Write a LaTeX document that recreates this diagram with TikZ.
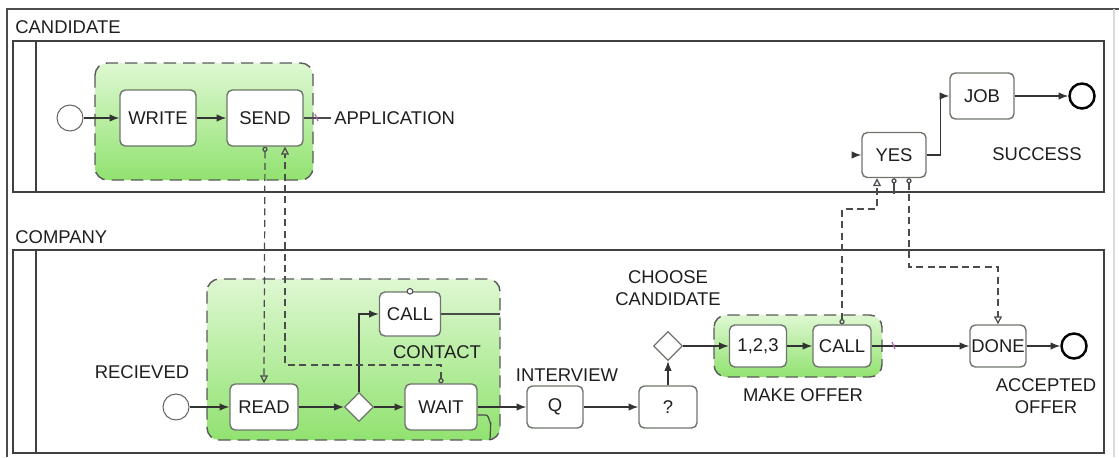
\documentclass[tikz,border=0pt]{standalone}
\usepackage{fontspec}
\setmainfont{Liberation Sans}
\usetikzlibrary{arrows.meta,shapes.geometric}
\definecolor{grptop}{RGB}{222,248,210}
\definecolor{grpbot}{RGB}{145,226,112}
\definecolor{boxline}{RGB}{110,118,108}
\definecolor{txt}{RGB}{30,30,30}
\tikzset{
  lbl/.style={text=txt,font=\fontsize{10.5}{12.6}\selectfont,inner sep=0pt},
  task/.style={draw=boxline,fill=white,rounded corners=3pt,line width=0.8pt,inner sep=0pt,text=txt,font=\fontsize{10.5}{12.6}\selectfont},
  grp/.style={draw=black!65,dash pattern=on 7pt off 4pt,rounded corners=7pt,line width=0.8pt,top color=grptop,bottom color=grpbot},
  startev/.style={circle,draw=black!60,fill=white,line width=0.6pt,minimum size=0.52cm,inner sep=0pt},
  endev/.style={circle,draw=black,fill=white,line width=1.4pt,minimum size=0.5cm,inner sep=0pt},
  gate/.style={diamond,aspect=1,draw=boxline,fill=white,line width=0.7pt,minimum size=0.58cm,inner sep=0pt},
  flow/.style={draw=black!80,line width=0.7pt,-{Latex[length=5.5pt,width=4.2pt]}},
  plain/.style={draw=black!70,line width=0.7pt},
  msg/.style={draw=black!70,line width=0.7pt,dash pattern=on 4pt off 2.5pt,{Circle[open,length=3pt,width=3pt]}-{Triangle[open,length=4.5pt,width=4.5pt]}},
  tick/.style={draw=violet!60,line width=0.7pt}
}
\begin{document}
\begin{tikzpicture}[x=0.02cm,y=-0.02cm]
\useasboundingbox (0,0) rectangle (1119,457);
% pools
\draw[black!70,line width=1.4pt] (7,457) -- (7,9) -- (1119,9);
\draw[black!15,line width=0.6pt] (1114,9) -- (1114,457);
\draw[black!75,line width=0.9pt] (13,41) rectangle (1104,192);
\draw[black!75,line width=0.9pt] (36,41) -- (36,192);
\draw[black!75,line width=0.9pt] (13,250) rectangle (1104,453);
\draw[black!75,line width=0.9pt] (36,250) -- (36,453);
\node[lbl,anchor=west] (candlbl) at (15,27) {CANDIDATE};
\node[lbl,anchor=west] (complbl) at (15,237) {COMPANY};
% groups
\draw[grp] (95,63) rectangle (313,180);
\draw[grp] (207,279) rectangle (500,440);
\draw[grp] (714,315) rectangle (882,377);
% candidate lane
\node[startev] (cstart) at (70,118) {};
\node[task,minimum width=1.52cm,minimum height=1.12cm] (write) at (158,118) {WRITE};
\node[task,minimum width=1.52cm,minimum height=1.12cm] (send) at (265,118) {SEND};
\node[lbl,anchor=west] (appl) at (334,118) {APPLICATION};
\coordinate (applend) at (331,118);
\node[task,minimum width=1.28cm,minimum height=0.9cm] (yes) at (894,155) {YES};
\node[task,minimum width=1.28cm,minimum height=0.92cm] (job) at (982,96) {JOB};
\node[endev] (cend) at (1082,96) {};
\node[lbl] (success) at (1037,154) {SUCCESS};
\coordinate (yesin) at (853,155);
\draw[flow] (cstart) -- (write);
\draw[flow] (write) -- (send);
\draw[plain] (send) -- (applend);
\draw[tick] (315,114) -- (318,121);
\draw[flow] (yesin) -- (yes);
\draw[flow] (yes.east) -- ++(14,0) |- (job.west);
\draw[flow] (job) -- (cend);
% company lane
\node[lbl] (recv) at (142,372) {RECIEVED};
\node[startev] (pstart) at (176,407) {};
\node[task,minimum width=1.36cm,minimum height=0.92cm] (read) at (264,407) {READ};
\node[gate] (gw1) at (359,407) {};
\node[task,minimum width=1.44cm,minimum height=0.92cm] (wait) at (441,407) {WAIT};
\node[task,minimum width=1.22cm,minimum height=0.88cm] (call1) at (410,314) {CALL};
\node[lbl] (contact) at (437,352) {CONTACT};
\node[task,minimum width=1.12cm,minimum height=0.84cm] (q) at (555,407) {Q};
\node[lbl] (interview) at (567,375) {INTERVIEW};
\node[task,minimum width=1.16cm,minimum height=0.84cm] (pick) at (668,407) {?};
\node[gate] (gw2) at (668,346) {};
\node[lbl,align=center] (choose) at (668,288) {CHOOSE\\CANDIDATE};
\node[task,minimum width=1.14cm,minimum height=0.84cm] (rank) at (758,346) {1,2,3};
\node[task,minimum width=1.16cm,minimum height=0.84cm] (call2) at (842,346) {CALL};
\node[lbl] (offer) at (803,395) {MAKE OFFER};
\node[task,minimum width=1.12cm,minimum height=0.84cm] (done) at (998,346) {DONE};
\node[endev] (pend) at (1074,346) {};
\node[lbl,align=center] (accepted) at (1046,396) {ACCEPTED\\OFFER};
\coordinate (callout) at (500,314);
\coordinate (waitout) at (490,440);
\draw[flow] (pstart) -- (read);
\draw[flow] (read) -- (gw1);
\draw[flow] (gw1) -- (wait);
\draw[flow] (gw1.north) |- (call1.west);
\draw[plain] (call1.east) -- (callout);
\draw[plain] ([yshift=-0.16cm]wait.east) -- ++(8,0) to[out=0,in=-90] ++(5,9) -- (waitout);
\draw[flow] (wait) -- (q);
\draw[flow] (q) -- (pick);
\draw[flow] (pick) -- (gw2);
\draw[flow] (gw2) -- (rank);
\draw[flow] (rank) -- (call2);
\draw[flow] (call2) -- (done);
\draw[tick] (892,342) -- (895,349);
\draw[flow] (done) -- (pend);
\draw[draw=black!70,fill=white,line width=0.6pt] (call1.north) circle[radius=1.6pt];
% message flows
\coordinate (k1) at (285,365);
\coordinate (k2) at (877,209);
\coordinate (k3) at (909,267);
\draw[msg] (send.south) -- (read.north);
\draw[msg] (wait.north) |- (k1) -- (k1 |- send.south);
\draw[msg] (call2.north) |- (k2) -- (k2 |- yes.south);
\draw[msg] (k3 |- yes.south) -- (k3) -| (done.north);
\draw[plain,{Circle[open,length=3pt,width=3pt]}-] (yes.south) -- ++(0,16);
\end{tikzpicture}
\end{document}
